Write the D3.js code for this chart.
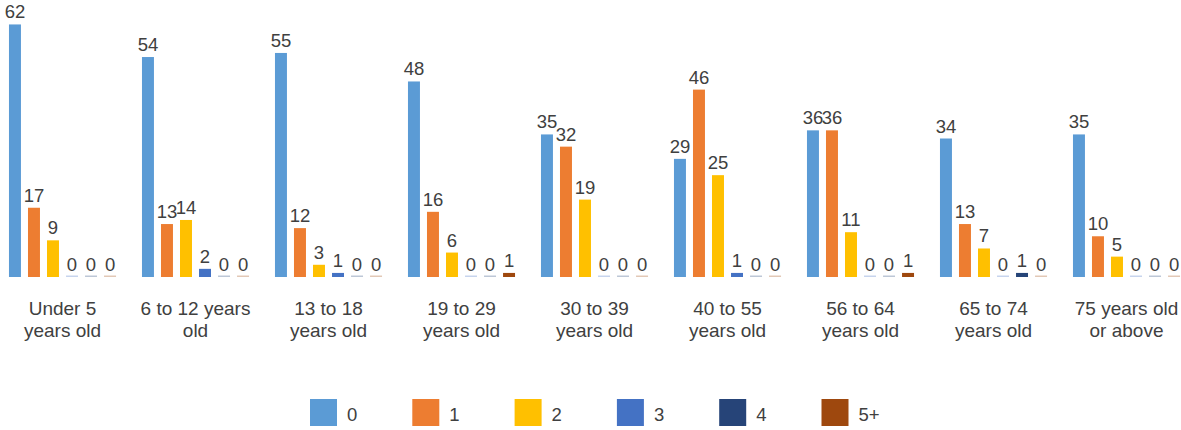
<!DOCTYPE html>
<html>
<head>
<meta charset="utf-8">
<script src="https://cdn.jsdelivr.net/npm/d3@7"></script>
<style>
  html, body { margin: 0; padding: 0; background: #ffffff; }
  svg { display: block; }
  text { font-family: "Liberation Sans", Arial, sans-serif; fill: #404040; }
</style>
</head>
<body>
<svg id="chart" width="1181" height="430"></svg>
<script>
// ---- data ----
const categories = [
  "Under 5 years old", "6 to 12 years old", "13 to 18 years old",
  "19 to 29 years old", "30 to 39 years old", "40 to 55 years old",
  "56 to 64 years old", "65 to 74 years old", "75 years old or above"
];
const categoryLines = [
  ["Under 5", "years old"], ["6 to 12 years", "old"], ["13 to 18", "years old"],
  ["19 to 29", "years old"], ["30 to 39", "years old"], ["40 to 55", "years old"],
  ["56 to 64", "years old"], ["65 to 74", "years old"], ["75 years old", "or above"]
];
const seriesNames = ["0", "1", "2", "3", "4", "5+"];
const series0 = [62, 54, 55, 48, 35, 29, 36, 34, 35];
const series1 = [17, 13, 12, 16, 32, 46, 36, 13, 10];
const series2 = [9, 14, 3, 6, 19, 25, 11, 7, 5];
const series3 = [0, 2, 1, 0, 0, 1, 0, 0, 0];
const series4 = [0, 0, 0, 0, 0, 0, 0, 1, 0];
const series5 = [0, 0, 0, 1, 0, 0, 1, 0, 0];
const seriesValues = [series0, series1, series2, series3, series4, series5];
const colors = ["#5B9BD5", "#ED7D31", "#FFC000", "#4472C4", "#264478", "#9E480E"];

// ---- layout ----
const svg = d3.select("#chart");
const baseY = 277;

const x0 = d3.scaleBand()
  .domain(categories)
  .range([-4, -4 + 133 * categories.length])
  .paddingInner(0.195)
  .paddingOuter(0.0975);

const x1 = d3.scaleBand()
  .domain(seriesNames)
  .range([0, x0.bandwidth()])
  .paddingInner(0.37)
  .paddingOuter(0);

const y = d3.scaleLinear().domain([0, 68]).range([baseY, 0]);

const rows = categories.map((c, i) => ({
  cat: c,
  vals: seriesNames.map((s, j) => ({ s, j, v: seriesValues[j][i] }))
}));

const groups = svg.append("g").selectAll("g")
  .data(rows).join("g")
  .attr("transform", d => `translate(${x0(d.cat)},0)`);

groups.selectAll("rect")
  .data(d => d.vals).join("rect")
  .attr("x", d => x1(d.s))
  .attr("width", x1.bandwidth())
  .attr("y", d => d.v === 0 ? baseY - 1.5 : y(d.v))
  .attr("height", d => d.v === 0 ? 1.5 : baseY - y(d.v))
  .attr("fill", d => colors[d.j])
  .attr("fill-opacity", d => d.v === 0 ? 0.3 : 1);

groups.selectAll("text.val")
  .data(d => d.vals).join("text")
  .attr("class", "val")
  .attr("x", d => x1(d.s) + x1.bandwidth() / 2)
  .attr("y", d => y(d.v) - 6)
  .attr("text-anchor", "middle")
  .style("font-size", "18.5px")
  .text(d => d.v);

// category axis labels
const axisG = svg.append("g");
categories.forEach((c, i) => {
  const t = axisG.append("text")
    .attr("x", x0(c) + x0.bandwidth() / 2)
    .attr("y", 315)
    .attr("text-anchor", "middle")
    .style("font-size", "19px");
  categoryLines[i].forEach((ln, k) => {
    t.append("tspan")
      .attr("x", x0(c) + x0.bandwidth() / 2)
      .attr("y", 315 + k * 21.5)
      .text(ln);
  });
});

// legend
const legend = svg.append("g");
const lx = d3.scalePoint().domain(seriesNames).range([310, 310 + 102.3 * 5]);
const items = legend.selectAll("g").data(seriesNames).join("g")
  .attr("transform", d => `translate(${lx(d)},399)`);
items.append("rect")
  .attr("width", 27).attr("height", 27)
  .attr("fill", (d, i) => colors[i]);
items.append("text")
  .attr("x", 37).attr("y", 22)
  .style("font-size", "18.5px")
  .text(d => d);
</script>
</body>
</html>
